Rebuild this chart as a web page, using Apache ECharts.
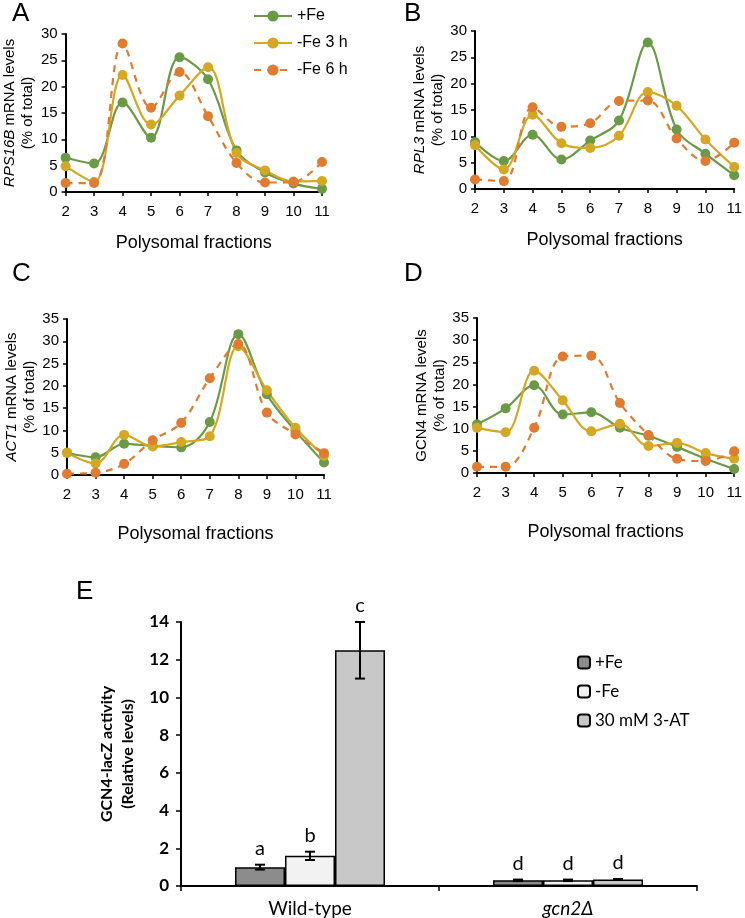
<!DOCTYPE html>
<html>
<head>
<meta charset="utf-8">
<script src="https://cdn.jsdelivr.net/npm/echarts@6/dist/echarts.min.js"></script>
<style>
  html, body { margin: 0; padding: 0; background: #fff; }
  #chart { width: 745px; height: 918px; }
</style>
</head>
<body>
<div id="chart"></div>
<script>
// polysome profiles (% of total), fractions 2..11
const fractions = ['2', '3', '4', '5', '6', '7', '8', '9', '10', '11']
const lineNames = ['+Fe', '-Fe 3 h', '-Fe 6 h']

const rps16bPlusFe = [6.5, 5.4, 17.0, 10.3, 25.6, 21.4, 7.9, 3.7, 1.6, 0.6]
const rps16bFe3h = [4.9, 1.9, 22.2, 12.8, 18.3, 23.7, 7.4, 4.1, 2.0, 2.1]
const rps16bFe6h = [1.7, 1.7, 28.2, 16.0, 22.8, 14.4, 5.5, 1.8, 1.9, 5.7]

const rpl3PlusFe = [8.9, 5.3, 10.3, 5.6, 9.2, 13.0, 27.8, 11.3, 6.7, 2.6]
const rpl3Fe3h = [8.3, 3.7, 14.1, 8.7, 7.8, 10.1, 18.4, 15.8, 9.4, 4.2]
const rpl3Fe6h = [1.8, 1.5, 15.5, 11.8, 12.5, 16.7, 16.8, 9.6, 5.3, 8.8]

const act1PlusFe = [5.0, 4.0, 7.0, 6.5, 6.2, 11.9, 31.6, 18.1, 9.9, 2.8]
const act1Fe3h = [5.0, 2.6, 9.0, 6.4, 7.4, 8.7, 28.9, 19.0, 10.6, 4.3]
const act1Fe6h = [0.3, 0.5, 2.5, 7.8, 11.7, 21.7, 29.4, 14.0, 9.1, 4.9]

const gcn4PlusFe = [11.0, 14.6, 19.8, 13.2, 13.7, 10.2, 8.4, 5.9, 3.2, 0.9]
const gcn4Fe3h = [10.2, 9.2, 23.1, 16.4, 9.4, 11.1, 6.1, 6.8, 4.5, 3.2]
const gcn4Fe6h = [1.4, 1.4, 10.2, 26.3, 26.5, 15.8, 8.6, 3.2, 2.7, 4.9]

// GCN4-lacZ activity
const genotypes = ['Wild-type', 'gcn2Δ']
const treatments = ['+Fe', '-Fe', '30 mM 3-AT']
const activityPlusFe = [1.0, 0.3]
const activityMinusFe = [1.6, 0.3]
const activity3AT = [12.5, 0.35]
const errorPlusFe = [0.13, 0.04]
const errorMinusFe = [0.22, 0.04]
const error3AT = [1.5, 0.02]
const lettersPlusFe = ['a', 'd']
const lettersMinusFe = ['b', 'd']
const letters3AT = ['c', 'd']

const lineColors = ['#6b9a47', '#d4a823', '#e07b2f']
const barColors = ['#8c8c8c', '#f2f2f2', '#c8c8c8']
const arial = 'Liberation Sans, Arial, sans-serif'
const calibri = 'Lato, Open Sans, sans-serif'

const panels = [
  { gene: 'RPS16B', italic: true, max: 30, data: [rps16bPlusFe, rps16bFe3h, rps16bFe6h] },
  { gene: 'RPL3', italic: true, max: 30, data: [rpl3PlusFe, rpl3Fe3h, rpl3Fe6h] },
  { gene: 'ACT1', italic: true, max: 35, data: [act1PlusFe, act1Fe3h, act1Fe6h] },
  { gene: 'GCN4', italic: false, max: 35, data: [gcn4PlusFe, gcn4Fe3h, gcn4Fe6h] }
]

const grids = [
  { left: 63, top: 34, width: 259, height: 158 },
  { left: 475, top: 31, width: 261, height: 158 },
  { left: 67, top: 319, width: 257, height: 156 },
  { left: 477, top: 318, width: 262, height: 155 },
  { left: 181, top: 622, width: 516, height: 264 }
]

const blackAxis = { show: true, lineStyle: { color: '#000', width: 2 } }

const xAxes = panels.map((p, i) => ({
  type: 'category',
  gridIndex: i,
  data: fractions,
  boundaryGap: false,
  axisLine: blackAxis,
  axisTick: { show: true, length: 4, lineStyle: { color: '#000', width: 1.5 } },
  axisLabel: { color: '#000', fontSize: 15, fontFamily: arial, margin: 12 },
  name: 'Polysomal fractions',
  nameLocation: 'middle',
  nameGap: i < 2 ? 42 : 50,
  nameTextStyle: { color: '#000', fontSize: 18, fontFamily: arial }
}))

const yAxes = panels.map((p, i) => ({
  type: 'value',
  gridIndex: i,
  min: 0,
  max: p.max,
  interval: 5,
  splitLine: { show: false },
  axisLine: blackAxis,
  axisTick: { show: true, length: 4, lineStyle: { color: '#000', width: 1.5 } },
  axisLabel: { color: '#000', fontSize: 15, fontFamily: arial, margin: 8 },
  name: (p.italic ? '{i|' + p.gene + '}' : p.gene) + ' mRNA levels\n(% of total)',
  nameLocation: 'middle',
  nameGap: 25,
  nameTextStyle: {
    color: '#000', fontSize: 15, lineHeight: 18, fontFamily: arial,
    rich: { i: { fontStyle: 'italic', fontSize: 15, lineHeight: 18, fontFamily: arial, color: '#000' } }
  }
}))

xAxes.push({
  type: 'category',
  gridIndex: 4,
  data: genotypes,
  axisLine: blackAxis,
  axisTick: { show: true, length: 5, lineStyle: { color: '#000', width: 1.5 } },
  axisLabel: {
    color: '#000', fontSize: 19, fontFamily: calibri, margin: 13,
    formatter: v => v === 'gcn2Δ' ? '{i|' + v + '}' : v,
    rich: { i: { fontStyle: 'italic', fontSize: 19, fontFamily: calibri, color: '#000' } }
  }
})

yAxes.push({
  type: 'value',
  gridIndex: 4,
  min: 0,
  max: 14,
  interval: 2,
  splitLine: { show: false },
  axisLine: blackAxis,
  axisTick: { show: true, length: 5, lineStyle: { color: '#000', width: 1.5 } },
  axisLabel: { color: '#000', fontSize: 17, fontWeight: 'bold', fontFamily: calibri, margin: 12 },
  name: 'GCN4-lacZ activity\n(Relative levels)',
  nameLocation: 'middle',
  nameGap: 41,
  nameTextStyle: { color: '#000', fontSize: 16, fontWeight: 'bold', lineHeight: 21, fontFamily: calibri }
})

const series = []
panels.forEach((p, i) => {
  p.data.forEach((values, k) => {
    series.push({
      type: 'line',
      name: lineNames[k],
      xAxisIndex: i,
      yAxisIndex: i,
      data: values,
      smooth: 0.35,
      symbol: 'circle',
      symbolSize: 10,
      itemStyle: { color: lineColors[k] },
      lineStyle: { color: lineColors[k], width: 2.2, type: k === 2 ? [7, 6] : 'solid' },
      animation: false
    })
  })
})

const barSets = [
  { values: activityPlusFe, errors: errorPlusFe, letters: lettersPlusFe },
  { values: activityMinusFe, errors: errorMinusFe, letters: lettersMinusFe },
  { values: activity3AT, errors: error3AT, letters: letters3AT }
]

barSets.forEach((set, k) => {
  series.push({
    type: 'bar',
    name: 'E ' + treatments[k],
    xAxisIndex: 4,
    yAxisIndex: 4,
    data: set.values,
    barWidth: 50,
    barGap: '0%',
    itemStyle: { color: barColors[k], borderColor: '#000', borderWidth: 1.5 },
    animation: false
  })
})

// error bars and significance letters
barSets.forEach((set, k) => {
  const offset = (k - 1) * 50
  series.push({
    type: 'custom',
    xAxisIndex: 4,
    yAxisIndex: 4,
    data: set.values.map((v, i) => [i, v, set.errors[i]]),
    z: 10,
    animation: false,
    renderItem: (params, api) => {
      const ci = api.value(0)
      const mean = api.value(1)
      const err = api.value(2)
      const top = api.coord([ci, mean + err])
      const bot = api.coord([ci, mean - err])
      const x = top[0] + offset
      const line = { stroke: '#000', lineWidth: 2 }
      return {
        type: 'group',
        children: [
          { type: 'line', shape: { x1: x, y1: top[1], x2: x, y2: bot[1] }, style: line },
          { type: 'line', shape: { x1: x - 5, y1: top[1], x2: x + 5, y2: top[1] }, style: line },
          { type: 'line', shape: { x1: x - 5, y1: bot[1], x2: x + 5, y2: bot[1] }, style: line },
          {
            type: 'text',
            x: x,
            y: top[1] - 16,
            style: {
              text: set.letters[params.dataIndex],
              fill: '#000',
              font: '20px ' + calibri,
              align: 'center',
              verticalAlign: 'middle'
            }
          }
        ]
      }
    }
  })
})

const panelLetter = (text, x, y) => ({
  type: 'text',
  x: x,
  y: y,
  style: { text: text, fill: '#000', font: '26px ' + arial, verticalAlign: 'middle' }
})

const chart = echarts.init(document.getElementById('chart'))
chart.setOption({
  animation: false,
  grid: grids,
  xAxis: xAxes,
  yAxis: yAxes,
  legend: [
    {
      data: lineNames,
      orient: 'vertical',
      left: 248,
      top: 3,
      itemWidth: 38,
      itemHeight: 14,
      itemGap: 11,
      textStyle: { color: '#000', fontSize: 16, fontFamily: arial }
    },
    {
      data: treatments.map(t => 'E ' + t),
      orient: 'vertical',
      left: 572,
      top: 649,
      itemWidth: 12,
      itemHeight: 12,
      itemGap: 12,
      formatter: name => name.slice(2),
      textStyle: { color: '#000', fontSize: 17, fontFamily: calibri }
    }
  ],
  graphic: [
    panelLetter('A', 12, 14),
    panelLetter('B', 404, 14),
    panelLetter('C', 12, 274),
    panelLetter('D', 404, 274),
    panelLetter('E', 76, 592)
  ],
  series: series
})
</script>
</body>
</html>
